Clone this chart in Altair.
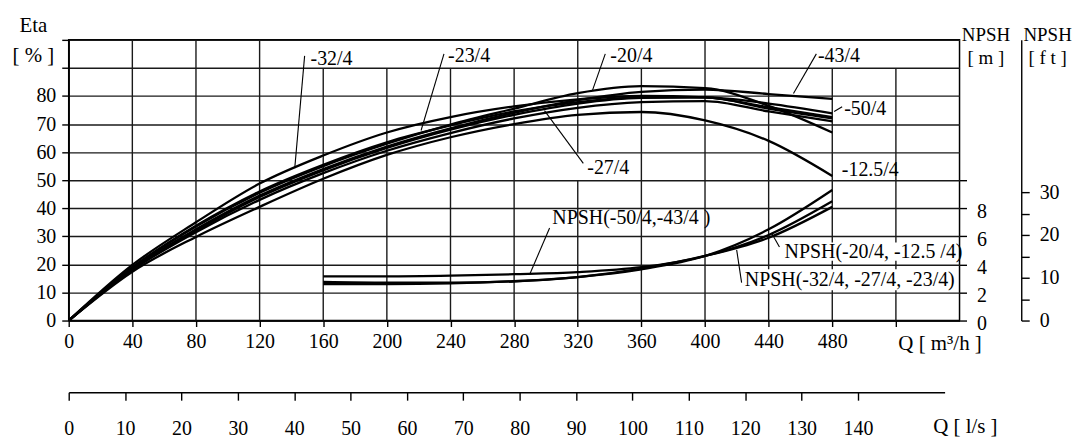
import altair as alt
import pandas as pd

FONT = "Liberation Serif"

# ---------------- data ----------------
Q_PTS = [0, 40, 80, 120, 160, 200, 240, 280, 320, 360, 400, 440, 480]
CURVE_NAMES = ["-50/4", "-43/4", "-32/4", "-27/4", "-23/4", "-20/4", "-12.5/4"]
ETA_50 = [0, 18.2, 32.0, 44.0, 53.5, 61.5, 68.0, 73.3, 77.3, 79.3, 79.5, 77.3, 73.8]
ETA_43 = [0, 18.5, 32.5, 44.5, 54.0, 62.0, 68.5, 74.0, 78.5, 81.5, 82.3, 80.7, 79.0]
ETA_32 = [0, 19.8, 35.0, 48.8, 58.8, 67.0, 72.5, 76.3, 78.8, 80.0, 79.5, 76.0, 72.5]
ETA_27 = [0, 18.0, 31.5, 43.0, 52.5, 60.5, 66.8, 72.0, 75.8, 77.8, 78.2, 74.5, 71.0]
ETA_23 = [0, 19.0, 33.8, 46.0, 55.5, 63.5, 69.5, 74.5, 77.8, 79.5, 79.5, 75.5, 72.0]
ETA_20 = [0, 18.8, 33.5, 45.5, 55.0, 63.0, 69.8, 75.5, 81.0, 83.5, 82.8, 76.5, 67.0]
ETA_125 = [0, 17.4, 29.8, 40.5, 50.5, 59.0, 65.3, 70.0, 73.3, 74.3, 71.3, 64.0, 51.5]
ETA_ALL = [ETA_50, ETA_43, ETA_32, ETA_27, ETA_23, ETA_20, ETA_125]

Q_NPSH = [160, 200, 240, 280, 320, 360, 400, 440, 480]
NPSH_NAMES = ["NPSH(-50/4,-43/4)", "NPSH(-20/4,-12.5/4)", "NPSH(-32/4,-27/4,-23/4)"]
NPSH_A = [3.15, 3.15, 3.2, 3.3, 3.45, 3.8, 4.6, 6.1, 8.5]
NPSH_B = [2.75, 2.7, 2.7, 2.8, 3.1, 3.65, 4.6, 6.5, 9.3]
NPSH_C = [2.6, 2.6, 2.65, 2.8, 3.1, 3.7, 4.6, 5.9, 8.1]
NPSH_ALL = [NPSH_A, NPSH_B, NPSH_C]

ETA_TICKS = [0, 10, 20, 30, 40, 50, 60, 70, 80, 90, 100]
Q_TICKS = [0, 40, 80, 120, 160, 200, 240, 280, 320, 360, 400, 440, 480, 520]
NPSH_M_TICKS = [0, 2, 4, 6, 8, 10]
NPSH_FT_TICKS = [0, 5, 10, 15, 20, 25, 30]
LS_TICKS = [0, 10, 20, 30, 40, 50, 60, 70, 80, 90, 100, 110, 120, 130, 140]

# vertical grid segments (Q, from eta, to eta)
VG_Q = [40, 80, 120, 160, 200, 240, 280, 320, 320, 360, 400, 440, 480, 520]
VG_LO = [0, 0, 0, 0, 0, 0, 0, 0, 60, 0, 0, 0, 0, 0]
VG_HI = [100, 100, 100, 90, 90, 90, 90, 50, 100, 90, 100, 100, 90, 90]

# annotations (text left edge, vertical centre)
LBL_TEXT = ["-32/4", "-23/4", "-20/4", "-43/4", "-50/4", "-27/4", "-12.5/4",
            "NPSH(-50/4,-43/4 )", "NPSH(-20/4, -12.5 /4)", "NPSH(-32/4, -27/4, -23/4)"]
LBL_Q = [152, 238.5, 340.5, 471, 487.5, 326, 486, 304, 450, 425]
LBL_ETA = [93.3, 94.3, 94.3, 94.3, 75.2, 54.3, 53.5, 36.5, 24.5, 14.5]

# leader lines
LD_Q1 = [148.3, 235.9, 337.3, 470.0, 486.2, 323.5, 302.3, 446.8, 423.0]
LD_E1 = [94.3, 95.0, 95.0, 95.0, 76.2, 56.0, 33.0, 26.2, 13.5]
LD_Q2 = [142.1, 221.5, 329.2, 455.6, 481.2, 299.1, 289.7, 441.8, 419.9]
LD_E2 = [54.3, 67.7, 81.9, 80.9, 74.5, 74.8, 16.3, 31.2, 25.2]

# label background boxes
BOX_Q1 = [447, 423]
BOX_Q2 = [556, 556]
BOX_E1 = [21.3, 10.8]
BOX_E2 = [27.8, 18.3]

# ---------------- tables ----------------
eta_df = pd.DataFrame([
    {"Q": q, "eta": e, "curve": n}
    for n, vals in zip(CURVE_NAMES, ETA_ALL) for q, e in zip(Q_PTS, vals)
])
npsh_df = pd.DataFrame([
    {"Q": q, "npsh": v, "curve": n}
    for n, vals in zip(NPSH_NAMES, NPSH_ALL) for q, v in zip(Q_NPSH, vals)
])
vg_df = pd.DataFrame({"Q": VG_Q, "eta": VG_LO, "eta2": VG_HI})
lbl_df = pd.DataFrame({"Q": LBL_Q, "eta": LBL_ETA, "text": LBL_TEXT})
ld_df = pd.DataFrame({"Q": LD_Q1, "eta": LD_E1, "Q2": LD_Q2, "eta2": LD_E2})
box_df = pd.DataFrame({"Q": BOX_Q1, "Q2": BOX_Q2, "eta": BOX_E1, "eta2": BOX_E2})
ft_df = pd.DataFrame({"ft": NPSH_FT_TICKS})
ls_df = pd.DataFrame({"ls": LS_TICKS})

# ---------------- scales / axes ----------------
xs = alt.Scale(domain=[0, 560], nice=False, zero=False)
ys = alt.Scale(domain=[0, 100], nice=False)

x_axis = alt.Axis(values=Q_TICKS, labelExpr="datum.value > 480 ? '' : datum.label",
                  tickSize=6, labelPadding=5, grid=False, labelFlush=False,
                  title="Q  [ m³/h ]", titleX=833, titleY=23, titleAlign="left",
                  titleBaseline="middle", titleFontSize=21)
y_axis = alt.Axis(values=ETA_TICKS, labelExpr="datum.value > 80 ? '' : datum.label",
                  tickSize=7, labelPadding=6, grid=True, gridColor="#1a1a1a",
                  gridWidth=1.4, labelBaseline="middle",
                  title=["Eta", "[ % ]"], titleX=-36, titleY=-8, titleAngle=0,
                  titleAlign="center", titleBaseline="alphabetic", titleLineHeight=30,
                  titleFontSize=21)

X = alt.X("Q:Q", scale=xs, axis=x_axis)
Y = alt.Y("eta:Q", scale=ys, axis=y_axis)

vgrid = alt.Chart(vg_df).mark_rule(color="#1a1a1a", strokeWidth=1.4).encode(
    x=X, y=Y, y2="eta2:Q")
boxes = alt.Chart(box_df).mark_rect(color="white").encode(
    x=X, x2="Q2:Q", y=Y, y2="eta2:Q")
curves = alt.Chart(eta_df).mark_line(color="black", strokeWidth=2.3,
                                     interpolate="monotone").encode(
    x=X, y=Y, detail="curve:N")
leaders = alt.Chart(ld_df).mark_rule(color="black", strokeWidth=1.1).encode(
    x=X, y=Y, x2="Q2:Q", y2="eta2:Q")
labels = alt.Chart(lbl_df).mark_text(align="left", baseline="middle", font=FONT,
                                     fontSize=20, color="black").encode(
    x=X, y=Y, text="text:N")

layer_eta = alt.layer(vgrid, boxes, curves, leaders, labels)

npsh_lines = alt.Chart(npsh_df).mark_line(color="black", strokeWidth=2.3,
                                          interpolate="monotone").encode(
    x=alt.X("Q:Q", scale=xs, axis=None),
    y=alt.Y("npsh:Q", scale=alt.Scale(domain=[0, 20], nice=False),
            axis=alt.Axis(orient="right", values=NPSH_M_TICKS,
                          labelExpr="datum.value > 8 ? '' : datum.label",
                          tickSize=7, labelPadding=10, labelOffset=3, grid=False,
                          domain=False, labelAlign="left",
                          title=["NPSH", "[ m ]"], titleX=26, titleY=1, titleAngle=0,
                          titleAlign="center", titleBaseline="alphabetic",
                          titleLineHeight=23, titleFontSize=19)),
    detail="curve:N")

ft_axis_layer = alt.Chart(ft_df).mark_point(opacity=0).encode(
    y=alt.Y("ft:Q", scale=alt.Scale(domain=[0, 20 * 3.28084], nice=False),
            axis=alt.Axis(orient="right", offset=62, values=NPSH_FT_TICKS,
                          labelExpr="datum.value % 10 == 0 ? datum.label : ''",
                          tickSize=8, labelPadding=10, grid=False, domain=True,
                          labelAlign="left", labelBaseline="middle",
                          title=["NPSH", "[ f t ]"], titleX=26, titleY=1, titleAngle=0,
                          titleAlign="center", titleBaseline="alphabetic",
                          titleLineHeight=23, titleFontSize=19)))

ls_axis_layer = alt.Chart(ls_df).mark_point(opacity=0).encode(
    x=alt.X("ls:Q", scale=alt.Scale(domain=[0, 155.36], range=[0, 880], nice=False,
                                     zero=False),
            axis=alt.Axis(orient="bottom", offset=72, values=LS_TICKS, tickSize=8,
                          labelPadding=18, grid=False, labelFlush=False,
                          title="Q  [ l/s ]", titleX=868, titleY=34, titleAlign="left",
                          titleBaseline="middle", titleFontSize=21)))

chart = alt.layer(layer_eta, npsh_lines, ft_axis_layer, ls_axis_layer).resolve_scale(
    x="independent", y="independent"
).properties(
    width=895, height=282,
    autosize=alt.AutoSizeParams(type="none"),
    padding={"left": 61, "top": 31, "right": 114, "bottom": 117},
    background="white",
).configure_view(
    stroke="black", strokeWidth=1.5
).configure_axis(
    labelFont=FONT, labelFontSize=20, labelColor="black",
    titleFont=FONT, titleFontSize=20, titleFontWeight="normal", titleColor="black",
    domainColor="black", tickColor="black", domainWidth=1.4, tickWidth=1.4,
)

chart.save("out.html", embed_options={"renderer": "svg", "actions": False})
